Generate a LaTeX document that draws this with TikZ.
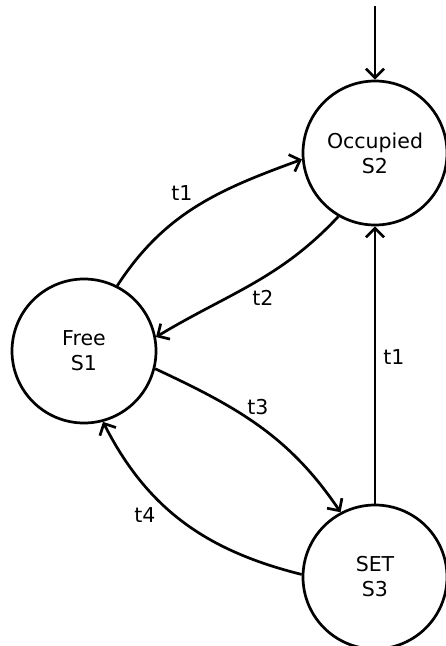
\documentclass[tikz,border=0pt]{standalone}
\usepackage{fontspec}
\setmainfont{DejaVu Sans}
\usetikzlibrary{arrows.meta}
\begin{document}
\begin{tikzpicture}[x=1pt,y=1pt,
  state/.style={draw, circle, line width=2.7pt, minimum size=144pt, inner sep=0pt,
    align=center, font=\fontsize{20.5}{25}\selectfont},
  trans/.style={line width=2.7pt, -{Straight Barb[length=9pt,width=18pt]}},
  lbl/.style={font=\fontsize{20.5}{24}\selectfont, inner sep=0pt}]
  \useasboundingbox (0,0) rectangle (446,-646);

  % states
  \node[state] (S2) at (375,-153) {Occupied\\S2};
  \node[state] (S1) at (84,-351) {Free\\S1};
  \node[state] (S3) at (375,-577) {SET\\S3};

  % initial arrow
  \coordinate (init) at (375,-6);
  \draw[trans] (init) -- (S2.north);

  % transitions
  \draw[trans] (S1.63) to[out=57,in=200] (S2.185);
  \draw[trans] (S2.240) to[out=227,in=31] (S1.11);
  \draw[trans] (S1.346) to[out=-25,in=124] (S3.118);
  \draw[trans] (S3.178) to[out=166,in=-63] (S1.285);
  \draw[trans] (S3) -- (S2);

  % labels
  \node[lbl] (l1) at (182,-193) {t1};
  \node[lbl] (l2) at (263,-298) {t2};
  \node[lbl] (l3) at (258,-407) {t3};
  \node[lbl] (l4) at (145,-515) {t4};
  \node[lbl] (l5) at (394,-357) {t1};
\end{tikzpicture}
\end{document}
